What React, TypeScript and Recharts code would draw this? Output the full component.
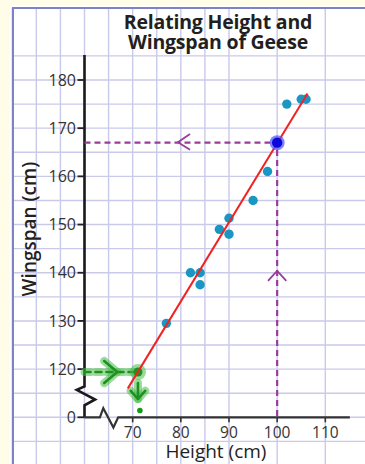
import React from 'react';
import { ScatterChart, Scatter, XAxis, YAxis, CartesianGrid } from 'recharts';

// ---- data ----
const heights = [77, 82, 84, 84, 88, 90, 90, 95, 98, 102, 105, 106];
const wingspans = [129.5, 140, 140, 137.5, 149, 151.3, 148, 155, 161, 175, 176, 176];

const highlightHeights = [100];
const highlightWingspans = [167];

const fitHeights = [69, 106.3];
const fitWingspans = [116, 177.2];

// purple dashed guide: from y-axis at 167 to x=100 and down to the x-axis
const guideHeights = [60, 100, 100];
const guideWingspans = [167, 167, 110];
const guideArrowLeftX = [81.9, 79.4, 81.9];
const guideArrowLeftY = [168.8, 167.1, 165.5];
const guideArrowUpX = [98.1, 100, 101.9];
const guideArrowUpY = [138.3, 140.4, 138.3];

// green hand-drawn annotation
const greenLineX = [60, 71.1];
const greenLineY = [119.4, 119.4];
const greenArrowRightX = [64.1, 66.8, 64.1];
const greenArrowRightY = [121.7, 119.4, 117.1];
const greenDownX = [71.1, 71.1];
const greenDownY = [117.1, 113.8];
const greenArrowDownX = [69.6, 71.1, 72.6];
const greenArrowDownY = [115.5, 113.8, 115.5];
const greenBlobX = [71.1];
const greenBlobY = [119.4];
const greenDotX = [71.5];
const greenDotY = [111.4];

// axes (broken axis: value 110 stands for 0)
const xTicks = [70, 80, 90, 100, 110];
const yTicks = [110, 120, 130, 140, 150, 160, 170, 180];
const yTickLabels = ['0', '120', '130', '140', '150', '160', '170', '180'];

const yAxisPathX = [60, 60, 58.4, 62.2, 60, 60];
const yAxisPathY = [185.2, 116.4, 115.7, 113.7, 112.5, 110];
const xAxisPathX = [60, 63.2, 63.9, 66.0, 67.0, 115.1];
const xAxisPathY = [110, 110, 111.9, 107.9, 110, 110];

// background graph-paper grid
const gridX = [45, 50, 55, 60, 65, 70, 75, 80, 85, 90, 95, 100, 105, 110, 115, 120];
const gridY = [100, 105, 110, 115, 120, 125, 130, 135, 140, 145, 150, 155, 160, 165, 170, 175, 180, 185, 190, 195];

const zip = (xs: number[], ys: number[]) => xs.map((x, i) => ({ x, y: ys[i] }));

const FONT = "'Open Sans', 'Noto Sans', sans-serif";
const TEXT = '#231f20';
const GREEN = '#1f8f1f';
const HALO = 'rgba(70,190,70,0.55)';
const PURPLE = '#9a3d9a';

const none = () => <g />;

const dot = (props: any) => <circle cx={props.cx} cy={props.cy} r={4.7} fill="#1b96c3" />;
const highlight = (props: any) => (
  <g>
    <circle cx={props.cx} cy={props.cy} r={7.5} fill="#5a5aff" opacity={0.75} />
    <circle cx={props.cx} cy={props.cy} r={5.2} fill="#0a0ad8" />
  </g>
);
const greenBlob = (props: any) => (
  <g>
    <circle cx={props.cx} cy={props.cy} r={8} fill={HALO} />
    <circle cx={props.cx} cy={props.cy} r={4.5} fill={GREEN} />
  </g>
);
const greenDot = (props: any) => <circle cx={props.cx} cy={props.cy} r={2.8} fill="#159a15" />;

const haloLine = (dash?: string) => ({
  stroke: HALO,
  strokeWidth: 8,
  strokeLinecap: 'round' as const,
  strokeLinejoin: 'round' as const,
  strokeDasharray: dash,
});
const coreLine = (dash?: string) => ({
  stroke: GREEN,
  strokeWidth: 2.6,
  strokeLinecap: 'round' as const,
  strokeLinejoin: 'round' as const,
  strokeDasharray: dash,
});

const xTitle = (props: any) => {
  const vb = props.viewBox || { x: 84.5, y: 417.3, width: 264.9, height: 46.7 };
  return (
    <text x={vb.x + vb.width / 2 - 1} y={vb.y + 40.5} textAnchor="middle" fontFamily={FONT} fontSize={19} fill={TEXT}>
      Height (cm)
    </text>
  );
};
const yTitle = (props: any) => {
  const vb = props.viewBox || { x: 0, y: 55.9, width: 84.5, height: 361.4 };
  const cx = vb.x + 36.5;
  const cy = vb.y + vb.height / 2 - 7.5;
  return (
    <text
      x={cx}
      y={cy}
      transform={`rotate(-90 ${cx} ${cy})`}
      textAnchor="middle"
      fontFamily={FONT}
      fontWeight={600}
      fontSize={19}
      fill={TEXT}
    >
      Wingspan (cm)
    </text>
  );
};

export default function App() {
  return (
    <div
      style={{
        position: 'absolute',
        left: 0,
        top: 0,
        width: 365,
        height: 464,
        overflow: 'hidden',
        background: '#fffde8',
      }}
    >
      <div style={{ position: 'absolute', left: 10, top: 5, width: 420, height: 520, background: '#ffffff' }} />
      {/* graph paper + broken axis lines */}
      <div style={{ position: 'absolute', left: 0, top: 0 }}>
        <ScatterChart width={374} height={466} margin={{ top: 7.7, right: 0.54, bottom: 0.5, left: 12.26 }}>
          <CartesianGrid stroke="#c9c9ea" strokeWidth={1.4} horizontal vertical />
          <XAxis type="number" dataKey="x" domain={[45, 120]} ticks={gridX} hide allowDataOverflow />
          <YAxis type="number" dataKey="y" domain={[100, 195]} ticks={gridY} hide allowDataOverflow />
          <Scatter
            data={zip(yAxisPathX, yAxisPathY)}
            shape={none}
            line={{ stroke: '#1a1a1a', strokeWidth: 2.6, strokeLinejoin: 'miter' }}
            lineType="joint"
            isAnimationActive={false}
          />
          <Scatter
            data={zip(xAxisPathX, xAxisPathY)}
            shape={none}
            line={{ stroke: '#333333', strokeWidth: 2.2, strokeLinejoin: 'miter' }}
            lineType="joint"
            isAnimationActive={false}
          />
        </ScatterChart>
      </div>
      <div
        style={{
          position: 'absolute',
          left: 12,
          top: 7,
          width: 420,
          height: 520,
          border: '2.5px solid #7c83c6',
          boxSizing: 'border-box',
        }}
      />
      {/* title */}
      <div
        style={{
          position: 'absolute',
          left: 68,
          top: 12.2,
          width: 300,
          textAlign: 'center',
          fontFamily: FONT,
          fontWeight: 700,
          fontSize: 19.5,
          lineHeight: '20px',
          color: TEXT,
          letterSpacing: '-0.2px',
        }}
      >
        Relating Height and
        <br />
        Wingspan of Geese
      </div>
      {/* main chart */}
      <div style={{ position: 'absolute', left: 0, top: 0 }}>
        <ScatterChart width={365} height={464} margin={{ top: 55.9, right: 15.6, bottom: 0, left: 0 }}>
          <XAxis
            type="number"
            dataKey="x"
            domain={[60, 115]}
            ticks={xTicks}
            interval={0}
            height={46.7}
            axisLine={false}
            tickLine={{ stroke: '#333', strokeWidth: 1.6 }}
            tickSize={5}
            tickMargin={4.5}
            tick={{ fill: '#333', fontSize: 15.5, fontFamily: FONT }}
            label={xTitle}
          />
          <YAxis
            type="number"
            dataKey="y"
            domain={[110, 185]}
            ticks={yTicks}
            interval={0}
            width={84.5}
            axisLine={false}
            tickLine={{ stroke: '#222', strokeWidth: 1.8 }}
            tickSize={7}
            tickMargin={1.5}
            tickFormatter={(v: number) => yTickLabels[yTicks.indexOf(v)] ?? String(v)}
            tick={{ fill: '#333', fontSize: 16, fontFamily: FONT }}
            label={yTitle}
          />
          {/* purple guide */}
          <Scatter
            data={zip(guideHeights, guideWingspans)}
            shape={none}
            line={{ stroke: PURPLE, strokeWidth: 2.2, strokeDasharray: '6 4' }}
            lineType="joint"
            isAnimationActive={false}
          />
          <Scatter
            data={zip(guideArrowLeftX, guideArrowLeftY)}
            shape={none}
            line={{ stroke: PURPLE, strokeWidth: 1.8 }}
            lineType="joint"
            isAnimationActive={false}
          />
          <Scatter
            data={zip(guideArrowUpX, guideArrowUpY)}
            shape={none}
            line={{ stroke: PURPLE, strokeWidth: 1.8 }}
            lineType="joint"
            isAnimationActive={false}
          />
          {/* green annotation */}
          <Scatter data={zip(greenLineX, greenLineY)} shape={none} line={haloLine('6 5')} lineType="joint" isAnimationActive={false} />
          <Scatter data={zip(greenArrowRightX, greenArrowRightY)} shape={none} line={haloLine()} lineType="joint" isAnimationActive={false} />
          <Scatter data={zip(greenDownX, greenDownY)} shape={none} line={haloLine()} lineType="joint" isAnimationActive={false} />
          <Scatter data={zip(greenArrowDownX, greenArrowDownY)} shape={none} line={haloLine()} lineType="joint" isAnimationActive={false} />
          <Scatter data={zip(greenLineX, greenLineY)} shape={none} line={coreLine('6 5')} lineType="joint" isAnimationActive={false} />
          <Scatter data={zip(greenArrowRightX, greenArrowRightY)} shape={none} line={coreLine()} lineType="joint" isAnimationActive={false} />
          <Scatter data={zip(greenDownX, greenDownY)} shape={none} line={coreLine()} lineType="joint" isAnimationActive={false} />
          <Scatter data={zip(greenArrowDownX, greenArrowDownY)} shape={none} line={coreLine()} lineType="joint" isAnimationActive={false} />
          <Scatter data={zip(greenBlobX, greenBlobY)} shape={greenBlob} isAnimationActive={false} />
          <Scatter data={zip(greenDotX, greenDotY)} shape={greenDot} isAnimationActive={false} />
          {/* data */}
          <Scatter data={zip(heights, wingspans)} shape={dot} isAnimationActive={false} />
          <Scatter
            data={zip(fitHeights, fitWingspans)}
            shape={none}
            line={{ stroke: '#f02222', strokeWidth: 2 }}
            lineType="joint"
            isAnimationActive={false}
          />
          <Scatter data={zip(highlightHeights, highlightWingspans)} shape={highlight} isAnimationActive={false} />
        </ScatterChart>
      </div>
    </div>
  );
}
